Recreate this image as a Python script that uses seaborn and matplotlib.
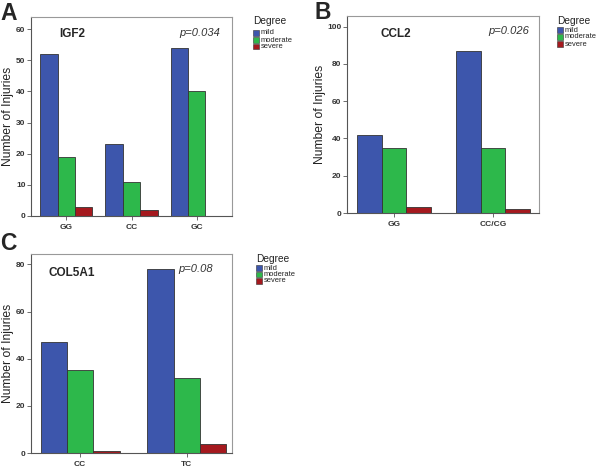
import numpy as np
import pandas as pd
import seaborn as sns
import matplotlib.pyplot as plt
import matplotlib.transforms as mtrans
from matplotlib.patches import Rectangle

# data
degrees = ['mild', 'moderate', 'severe']
colors = ['#3d56ac', '#2db84b', '#a5191e']

igf2_geno = ['GG', 'CC', 'GC']
igf2_mild = [52, 23, 54]
igf2_moderate = [19, 11, 40]
igf2_severe = [3, 2, 0]

ccl2_geno = ['GG', 'CC/CG']
ccl2_mild = [42, 87]
ccl2_moderate = [35, 35]
ccl2_severe = [3, 2]

col5a1_geno = ['CC', 'TC']
col5a1_mild = [47, 78]
col5a1_moderate = [35, 32]
col5a1_severe = [1, 4]


def long_df(geno, mild, moderate, severe):
    rows = []
    for d, vals in zip(degrees, [mild, moderate, severe]):
        for g, v in zip(geno, vals):
            rows.append({'Genotype': g, 'Degree': d, 'Count': v})
    return pd.DataFrame(rows)


sns.set_style('white')
plt.rcParams['font.family'] = ['Liberation Sans', 'DejaVu Sans']

W, H = 600, 467
fig = plt.figure(figsize=(6, 4.67), dpi=100)


def px_axes(left, right, top, bottom):
    return fig.add_axes([left / W, 1 - bottom / H, (right - left) / W, (bottom - top) / H])


def legend_px(x, y_title, ys):
    # small SPSS-style legend, positions in pixels from top-left
    fig.text(x / W, 1 - y_title / H, 'Degree', fontsize=7.3, va='center', ha='left',
             color='#222222')
    for d, c, y in zip(degrees, colors, ys):
        fig.patches.append(Rectangle((x / W, 1 - (y + 2.6) / H), 5.5 / W, 5.2 / H,
                                     transform=fig.transFigure, facecolor=c,
                                     edgecolor='#333333', linewidth=0.4))
        fig.text((x + 7.5) / W, 1 - y / H, d, fontsize=5.4, va='center', ha='left',
                 color='#222222')


def panel(ax, df, geno, width, ylim, yticks, xlim, gene, gene_xy, p, p_xy, ylab_x):
    sns.barplot(data=df, x='Genotype', y='Count', hue='Degree', order=geno,
                hue_order=degrees, palette=colors, width=width, ax=ax,
                edgecolor='#333333', linewidth=0.6, saturation=1, legend=False)
    ax.set_xlim(*xlim)
    ax.set_ylim(*ylim)
    ax.set_yticks(yticks)
    ax.set_xlabel('')
    ax.set_ylabel('Number of Injuries', fontsize=8.7, color='#222222')
    # ylab_x is the right-hand edge of the rotated label, in pixels
    ax.yaxis.set_label_coords(ylab_x / W, 0.5,
                              transform=mtrans.blended_transform_factory(fig.transFigure, ax.transAxes))
    ax.tick_params(axis='both', labelsize=6, length=3, width=0.6, color='#555555', pad=1)
    ax.tick_params(axis='x', pad=2.5)
    for lbl in ax.get_xticklabels() + ax.get_yticklabels():
        lbl.set_fontweight('bold')
        lbl.set_color('#333333')
    ax.tick_params(axis='x', bottom=True, direction='out')
    ax.tick_params(axis='y', left=True, direction='out')
    for side, sp in ax.spines.items():
        sp.set_linewidth(0.8)
        sp.set_color('#999999' if side in ('top', 'right') else '#555555')
    ax.text(*gene_xy, gene, transform=ax.transAxes, fontsize=8.5, fontweight='bold',
            va='center', ha='left')
    ax.text(*p_xy, p, transform=ax.transAxes, fontsize=8, style='italic',
            va='center', ha='left', color='#333333')


def letter(x, y, s):
    fig.text(x / W, 1 - y / H, s, fontsize=16.5, fontweight='bold', va='top', ha='left')


# A
axA = px_axes(31, 232, 17, 216)
panel(axA, long_df(igf2_geno, igf2_mild, igf2_moderate, igf2_severe), igf2_geno,
      0.8, (0, 63.9), [0, 10, 20, 30, 40, 50, 60], (-0.54, 2.54),
      'IGF2', (0.14, 0.915), 'p=0.034', (0.736, 0.92), 14)
legend_px(253, 21.5, [33, 40, 46.5])
letter(0, 2, 'A')

# B
axB = px_axes(347, 539, 16, 213)
panel(axB, long_df(ccl2_geno, ccl2_mild, ccl2_moderate, ccl2_severe), ccl2_geno,
      0.75, (0, 105.7), [0, 20, 40, 60, 80, 100], (-0.475, 1.465),
      'CCL2', (0.172, 0.909), 'p=0.026', (0.734, 0.924), 326)
legend_px(557, 21, [30, 37, 44])
letter(314, 1, 'B')

# C
axC = px_axes(31, 232, 254, 453)
panel(axC, long_df(col5a1_geno, col5a1_mild, col5a1_moderate, col5a1_severe), col5a1_geno,
      0.74, (0, 84.4), [0, 20, 40, 60, 80], (-0.46, 1.425),
      'COL5A1', (0.085, 0.905), 'p=0.08', (0.731, 0.925), 14)
legend_px(256, 259, [268, 274.5, 281])
letter(0, 232, 'C')

fig.savefig('out.png', dpi=100, facecolor='white')
